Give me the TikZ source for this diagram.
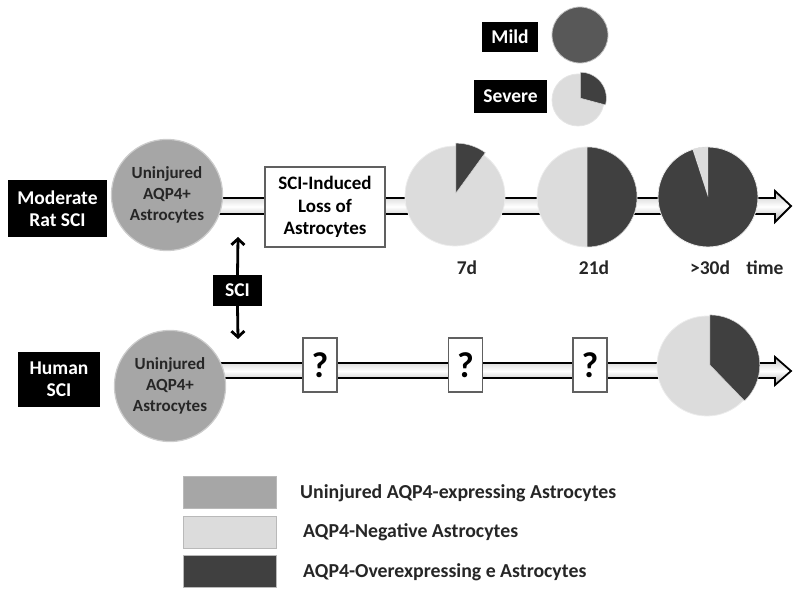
\documentclass[tikz,border=0pt]{standalone}
\usepackage{fontspec}
\setmainfont{Carlito}
\usetikzlibrary{arrows.meta}
\definecolor{uninj}{HTML}{A6A6A6}
\definecolor{neg}{HTML}{DCDCDC}
\definecolor{over}{HTML}{404040}
\definecolor{mildc}{HTML}{585858}
\definecolor{txtd}{HTML}{262626}
\begin{document}
\begin{tikzpicture}[x=1pt,y=1pt,
  blackbox/.style={fill=black,text=white,font=\bfseries\fontsize{19.5}{22}\selectfont,align=center,inner sep=0pt},
  whitebox/.style={fill=white,draw=gray!75!black,line width=1.6pt,font=\bfseries\fontsize{19}{22.5}\selectfont,align=center,inner sep=0pt},
  qbox/.style={whitebox,minimum width=34,minimum height=54,font=\bfseries\fontsize{36}{38}\selectfont},
  uncircle/.style={circle,fill=uninj,draw=gray!40,line width=1.2pt,minimum size=100,inner sep=0pt,text=txtd,align=center,font=\bfseries\fontsize{17}{21}\selectfont},
  pienode/.style={circle,fill=neg,draw=gray!15,line width=0.8pt,minimum size=100,inner sep=0pt},
  lbl/.style={font=\bfseries\fontsize{19.5}{22}\selectfont,text=txtd},
  legbox/.style={draw=gray!55,line width=0.8pt,minimum width=93,minimum height=32,inner sep=0pt},
  legtxt/.style={anchor=west,font=\bfseries\fontsize{19.8}{22}\selectfont,text=txtd,inner sep=0pt},
  sciarrow/.style={line width=2.8pt,-{Straight Barb[length=6pt,width=13pt]}},
  timeline/.style={draw=black,line width=1.8pt,top color=gray!45,bottom color=gray!60,middle color=white}
]
\useasboundingbox (0,0) rectangle (800,-593);

% timelines
\coordinate (ratTip) at (791,-206);
\coordinate (humTip) at (791,-371);
\shadedraw[timeline] (167,-198) -- (775,-198) -- (775,-191) -- (ratTip) -- (775,-222) -- (775,-214) -- (167,-214) -- cycle;
\shadedraw[timeline] (170,-363) -- (775,-363) -- (775,-357) -- (humTip) -- (775,-385) -- (775,-378) -- (170,-378) -- cycle;

% top key
\node[blackbox,minimum width=56,minimum height=30] (mild) at (510,-37) {Mild};
\node[circle,fill=mildc,draw=gray!50,line width=0.8pt,minimum size=56,inner sep=0pt] (mildpie) at (580,-35) {};
\node[blackbox,minimum width=73,minimum height=33] (severe) at (510.5,-96.5) {Severe};
\node[circle,fill=neg,draw=gray!20,line width=0.8pt,minimum size=52,inner sep=0pt] (sevpie) at (578,-100) {};
\fill[over,draw=gray!30,line width=0.5pt] ([shift={(37:3)}]sevpie.center) -- ++(-15:26) arc[start angle=-15,end angle=90,radius=26] -- cycle;

% rat row
\node[blackbox,minimum width=99,minimum height=57] (rat) at (57.5,-208.5) {Moderate\\Rat SCI};
\node[uncircle] (ratun) at (167,-195) {\raisebox{-5pt}{\parbox{96pt}{\centering Uninjured\\AQP4+\\Astrocytes}}};
\node[whitebox,minimum width=120,minimum height=80] (loss) at (325,-207) {SCI-Induced\\Loss of\\Astrocytes};

\node[pienode] (p7) at (455,-196) {};
\fill[over,draw=gray!30,line width=0.5pt] ([shift={(72:3)}]p7.center) -- ++(54:50) arc[start angle=54,end angle=90,radius=50] -- cycle;
\node[pienode] (p21) at (587,-197) {};
\fill[over,draw=gray!30,line width=0.5pt] (p21.center) -- ++(-90:50) arc[start angle=-90,end angle=90,radius=50] -- cycle;
\node[pienode,fill=over] (p30) at (708,-197) {};
\fill[neg] (p30.center) -- ++(90:50) arc[start angle=90,end angle=108,radius=50] -- cycle;

\node[lbl] (t7) at (467,-268) {7d};
\node[lbl] (t21) at (594,-268) {21d};
\node[lbl] (t30) at (710,-268) {>30d};
\node[lbl] (ttime) at (765,-268) {time};

% SCI marker
\node[blackbox,minimum width=49,minimum height=31] (sci) at (237.5,-290.5) {SCI};
\coordinate (upTip) at (238,-237);
\coordinate (downTip) at (238,-339);
\draw[sciarrow] (sci.north) -- (upTip);
\draw[sciarrow] (sci.south) -- (downTip);

% human row
\node[blackbox,minimum width=82,minimum height=55] (hum) at (59,-379.5) {Human\\SCI};
\node[uncircle] (humun) at (170,-386) {\raisebox{-1pt}{\parbox{96pt}{\centering Uninjured\\AQP4+\\Astrocytes}}};
\node[qbox] (q1) at (320,-365) {?};
\node[qbox] (q2) at (465.5,-365) {?};
\node[qbox] (q3) at (590,-365) {?};
\node[pienode] (ph) at (707,-366) {};
\fill[over,draw=gray!30,line width=0.5pt] ([shift={(22:3)}]ph.center) -- ++(-46:50) arc[start angle=-46,end angle=90,radius=50] -- cycle;

% legend
\node[legbox,fill=uninj] (lg1) at (229.5,-492) {};
\node[legbox,fill=neg] (lg2) at (229.5,-532) {};
\node[legbox,fill=over] (lg3) at (229.5,-571) {};
\node[legtxt] (lt1) at (300,-493) {Uninjured AQP4-expressing Astrocytes};
\node[legtxt] (lt2) at (303,-532) {AQP4-Negative Astrocytes};
\node[legtxt] (lt3) at (303,-572) {AQP4-Overexpressing e Astrocytes};
\end{tikzpicture}
\end{document}
